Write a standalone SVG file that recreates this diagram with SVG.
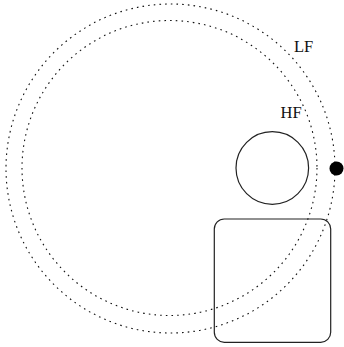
<svg xmlns="http://www.w3.org/2000/svg" width="344" height="347" viewBox="0 0 344 347">
<style>
.orbit{fill:none;stroke:#111;stroke-width:1.1;stroke-dasharray:1.6 4.1}
.shape{fill:none;stroke:#222;stroke-width:1.2}
.lbl{font-family:"Liberation Serif","Times New Roman",serif;font-size:16.5px;fill:#111}
</style>
<rect width="344" height="347" fill="#fff"/>
<g id="orbit-lf"><circle class="orbit" cx="170.5" cy="168.5" r="164.5"/></g>
<g id="orbit-hf"><circle class="orbit" cx="169.5" cy="168" r="147.5"/></g>
<g id="small-circle"><circle class="shape" cx="272.3" cy="168" r="36.3"/></g>
<g id="dot"><circle cx="336.5" cy="168.5" r="7" fill="#000"/></g>
<g id="box"><rect class="shape" x="214.3" y="219" width="116.4" height="123.3" rx="10" ry="10"/></g>
<g id="label-lf"><text class="lbl" x="294" y="52">LF</text></g>
<g id="label-hf"><text class="lbl" x="280.5" y="118">HF</text></g>
<g id="connectors"></g>
</svg>
